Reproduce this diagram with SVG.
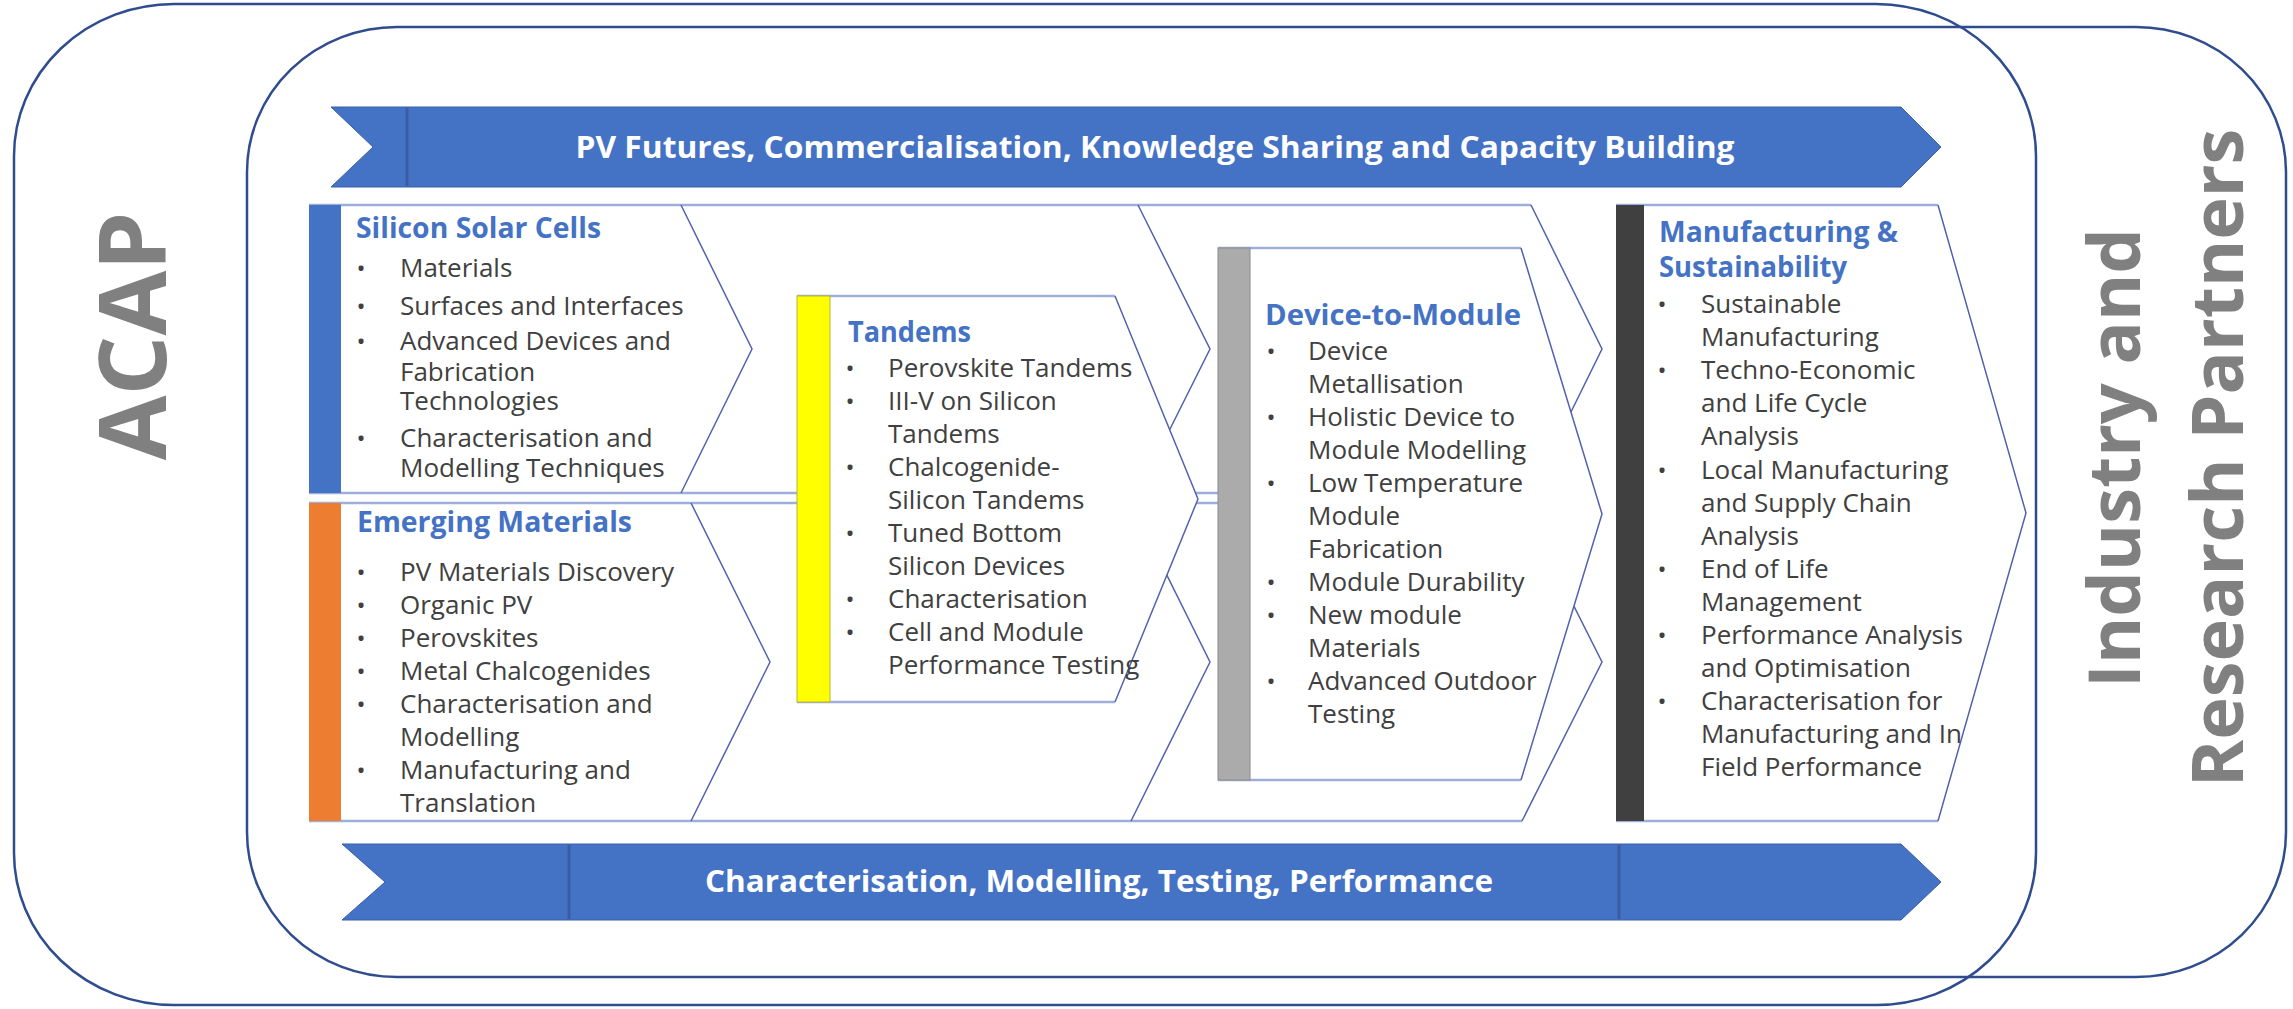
<svg xmlns="http://www.w3.org/2000/svg" width="2293" height="1009" viewBox="0 0 2293 1009">
  <style>
    .frame { fill: none; stroke: #2E4C8E; stroke-width: 2.5; }
    .banner { fill: #4472C4; stroke: #3A5FA8; stroke-width: 1; }
    .divider { stroke: #3A5CA3; stroke-width: 3; }
    .banner-text { font-family: "Open Sans", "Liberation Sans", sans-serif; font-weight: 700; font-size: 31px; fill: #FFFFFF; text-anchor: middle; }
    .side { font-family: "Open Sans", "Liberation Sans", sans-serif; font-weight: 700; fill: #808080; text-anchor: middle; }
    .panel { fill: #FFFFFF; stroke: none; }
    .rule { fill: none; stroke: #9EAEDB; stroke-width: 2.5; }
    .edge { fill: none; stroke: #5362AC; stroke-width: 1.5; }
    .hd { font-family: "Open Sans", "Liberation Sans", sans-serif; font-weight: 700; font-size: 28.5px; fill: #4472C4; }
    .tx { font-family: "Open Sans", "Liberation Sans", sans-serif; font-size: 26px; fill: #404040; }
    .bl { font-family: "Open Sans", "Liberation Sans", sans-serif; font-size: 24px; fill: #404040; text-anchor: middle; }
  </style>

  <rect width="2293" height="1009" fill="#FFFFFF"/>

  <!-- outer frames -->
  <g id="acap-frame">
    <rect class="frame" x="14" y="4" width="2022" height="1001" rx="160" ry="152"/>
    <text class="side" font-size="94" transform="translate(166,336) rotate(-90)">ACAP</text>
  </g>
  <g id="partners-frame">
    <rect class="frame" x="247" y="27" width="2039" height="950" rx="150" ry="145"/>
    <text class="side" font-size="72" transform="translate(2140,458) rotate(-90)">Industry and</text>
    <text class="side" font-size="72" transform="translate(2243,458) rotate(-90)">Research Partners</text>
  </g>

  <!-- top and bottom banners -->
  <g id="banner-top">
    <polygon class="banner" points="331,107 1901,107 1941,147 1901,187 331,187 373,147"/>
    <line class="divider" x1="407" y1="108" x2="407" y2="186"/>
    <text class="banner-text" x="1155" y="158" textLength="1159" lengthAdjust="spacingAndGlyphs">PV Futures, Commercialisation, Knowledge Sharing and Capacity Building</text>
  </g>
  <g id="banner-bottom">
    <polygon class="banner" points="342,844 1901,844 1941,882 1901,920 342,920 385,882"/>
    <line class="divider" x1="569" y1="845" x2="569" y2="919"/>
    <line class="divider" x1="1619" y1="845" x2="1619" y2="919"/>
    <text class="banner-text" x="1099" y="892" textLength="788" lengthAdjust="spacingAndGlyphs">Characterisation, Modelling, Testing, Performance</text>
  </g>

  <!-- stage chevrons joining the columns -->
  <g id="flow-arrows">
    <g id="row1-seg-c">
      <polygon class="panel" points="1138,205 1531,205 1602,349 1531,493 1138,493 1210,349"/>
      <path class="rule" d="M1138,205 H1531 M1138,493 H1531"/>
      <path class="edge" d="M1531,205 L1602,349 L1531,493"/>
    </g>
    <g id="row1-seg-b">
      <polygon class="panel" points="681,205 1138,205 1210,349 1138,493 681,493 752,349"/>
      <path class="rule" d="M681,205 H1138 M681,493 H1138"/>
      <path class="edge" d="M1138,205 L1210,349 L1138,493"/>
    </g>
    <g id="row2-seg-c">
      <polygon class="panel" points="1131,503 1522,503 1602,662 1522,821 1131,821 1210,662"/>
      <path class="rule" d="M1131,503 H1522 M1131,821 H1522"/>
      <path class="edge" d="M1522,503 L1602,662 L1522,821"/>
    </g>
    <g id="row2-seg-b">
      <polygon class="panel" points="691,503 1131,503 1210,662 1131,821 691,821 770,662"/>
      <path class="rule" d="M691,503 H1131 M691,821 H1131"/>
      <path class="edge" d="M1131,503 L1210,662 L1131,821"/>
    </g>
  </g>

  <!-- Silicon Solar Cells -->
  <g id="silicon-solar-cells">
    <polygon class="panel" points="309,205 681,205 752,349 681,493 309,493"/>
    <path class="rule" d="M309,205 H681 M309,493 H681"/>
    <path class="edge" d="M681,205 L752,349 L681,493"/>
    <rect x="309" y="205" width="32" height="288" fill="#4472C4"/>
    <text class="hd" x="356" y="238" textLength="245" lengthAdjust="spacingAndGlyphs">Silicon Solar Cells</text>
    <text class="bl"><tspan x="361" y="277">•</tspan><tspan x="361" y="315">•</tspan><tspan x="361" y="350">•</tspan><tspan x="361" y="447">•</tspan></text>
    <text class="tx">
      <tspan x="400" y="277">Materials</tspan>
      <tspan x="400" y="315">Surfaces and Interfaces</tspan>
      <tspan x="400" y="350">Advanced Devices and</tspan>
      <tspan x="400" y="381">Fabrication</tspan>
      <tspan x="400" y="410">Technologies</tspan>
      <tspan x="400" y="447">Characterisation and</tspan>
      <tspan x="400" y="477">Modelling Techniques</tspan>
    </text>
  </g>

  <!-- Emerging Materials -->
  <g id="emerging-materials">
    <polygon class="panel" points="309,503 691,503 770,662 691,821 309,821"/>
    <path class="rule" d="M309,503 H691 M309,821 H691"/>
    <path class="edge" d="M691,503 L770,662 L691,821"/>
    <rect x="309" y="503" width="32" height="318" fill="#ED7D31"/>
    <text class="hd" x="357" y="532" textLength="275" lengthAdjust="spacingAndGlyphs">Emerging Materials</text>
    <text class="bl"><tspan x="361" y="581">•</tspan><tspan x="361" y="614">•</tspan><tspan x="361" y="647">•</tspan><tspan x="361" y="680">•</tspan><tspan x="361" y="713">•</tspan><tspan x="361" y="779">•</tspan></text>
    <text class="tx">
      <tspan x="400" y="581">PV Materials Discovery</tspan>
      <tspan x="400" y="614">Organic PV</tspan>
      <tspan x="400" y="647">Perovskites</tspan>
      <tspan x="400" y="680">Metal Chalcogenides</tspan>
      <tspan x="400" y="713">Characterisation and</tspan>
      <tspan x="400" y="746">Modelling</tspan>
      <tspan x="400" y="779">Manufacturing and</tspan>
      <tspan x="400" y="812">Translation</tspan>
    </text>
  </g>

  <!-- Tandems -->
  <g id="tandems">
    <polygon class="panel" points="797,296 1115,296 1198,499 1115,702 797,702"/>
    <path class="rule" d="M797,296 H1115 M797,702 H1115"/>
    <path class="edge" d="M1115,296 L1198,499 L1115,702"/>
    <rect x="797" y="296" width="33" height="406" fill="#FFFF00" stroke="#B5B53A" stroke-width="1"/>
    <text class="hd" x="848" y="342" textLength="123" lengthAdjust="spacingAndGlyphs">Tandems</text>
    <text class="bl"><tspan x="850" y="377">•</tspan><tspan x="850" y="410">•</tspan><tspan x="850" y="476">•</tspan><tspan x="850" y="542">•</tspan><tspan x="850" y="608">•</tspan><tspan x="850" y="641">•</tspan></text>
    <text class="tx">
      <tspan x="888" y="377">Perovskite Tandems</tspan>
      <tspan x="888" y="410">III-V on Silicon</tspan>
      <tspan x="888" y="443">Tandems</tspan>
      <tspan x="888" y="476">Chalcogenide-</tspan>
      <tspan x="888" y="509">Silicon Tandems</tspan>
      <tspan x="888" y="542">Tuned Bottom</tspan>
      <tspan x="888" y="575">Silicon Devices</tspan>
      <tspan x="888" y="608">Characterisation</tspan>
      <tspan x="888" y="641">Cell and Module</tspan>
      <tspan x="888" y="674">Performance Testing</tspan>
    </text>
  </g>

  <!-- Device-to-Module -->
  <g id="device-to-module">
    <polygon class="panel" points="1218,248 1521,248 1602,514 1521,780 1218,780"/>
    <path class="rule" d="M1218,248 H1521 M1218,780 H1521"/>
    <path class="edge" d="M1521,248 L1602,514 L1521,780"/>
    <rect x="1218" y="248" width="32" height="532" fill="#ABABAB" stroke="#8A8A8A" stroke-width="1"/>
    <text class="hd" x="1265" y="325" textLength="256" lengthAdjust="spacingAndGlyphs">Device-to-Module</text>
    <text class="bl"><tspan x="1271" y="360">•</tspan><tspan x="1271" y="426">•</tspan><tspan x="1271" y="492">•</tspan><tspan x="1271" y="591">•</tspan><tspan x="1271" y="624">•</tspan><tspan x="1271" y="690">•</tspan></text>
    <text class="tx">
      <tspan x="1308" y="360">Device</tspan>
      <tspan x="1308" y="393">Metallisation</tspan>
      <tspan x="1308" y="426">Holistic Device to</tspan>
      <tspan x="1308" y="459">Module Modelling</tspan>
      <tspan x="1308" y="492">Low Temperature</tspan>
      <tspan x="1308" y="525">Module</tspan>
      <tspan x="1308" y="558">Fabrication</tspan>
      <tspan x="1308" y="591">Module Durability</tspan>
      <tspan x="1308" y="624">New module</tspan>
      <tspan x="1308" y="657">Materials</tspan>
      <tspan x="1308" y="690">Advanced Outdoor</tspan>
      <tspan x="1308" y="723">Testing</tspan>
    </text>
  </g>

  <!-- Manufacturing & Sustainability -->
  <g id="manufacturing-sustainability">
    <polygon class="panel" points="1616,205 1938,205 2026,513 1938,821 1616,821"/>
    <path class="rule" d="M1616,205 H1938 M1616,821 H1938"/>
    <path class="edge" d="M1938,205 L2026,513 L1938,821"/>
    <rect x="1616" y="205" width="28" height="616" fill="#404040"/>
    <text class="hd" x="1659" y="242" textLength="239" lengthAdjust="spacingAndGlyphs">Manufacturing &amp;</text>
    <text class="hd" x="1659" y="277" textLength="188" lengthAdjust="spacingAndGlyphs">Sustainability</text>
    <text class="bl"><tspan x="1662" y="313">•</tspan><tspan x="1662" y="379">•</tspan><tspan x="1662" y="479">•</tspan><tspan x="1662" y="578">•</tspan><tspan x="1662" y="644">•</tspan><tspan x="1662" y="710">•</tspan></text>
    <text class="tx">
      <tspan x="1701" y="313">Sustainable</tspan>
      <tspan x="1701" y="346">Manufacturing</tspan>
      <tspan x="1701" y="379">Techno-Economic</tspan>
      <tspan x="1701" y="412">and Life Cycle</tspan>
      <tspan x="1701" y="445">Analysis</tspan>
      <tspan x="1701" y="479">Local Manufacturing</tspan>
      <tspan x="1701" y="512">and Supply Chain</tspan>
      <tspan x="1701" y="545">Analysis</tspan>
      <tspan x="1701" y="578">End of Life</tspan>
      <tspan x="1701" y="611">Management</tspan>
      <tspan x="1701" y="644">Performance Analysis</tspan>
      <tspan x="1701" y="677">and Optimisation</tspan>
      <tspan x="1701" y="710">Characterisation for</tspan>
      <tspan x="1701" y="743">Manufacturing and In</tspan>
      <tspan x="1701" y="776">Field Performance</tspan>
    </text>
  </g>
</svg>
